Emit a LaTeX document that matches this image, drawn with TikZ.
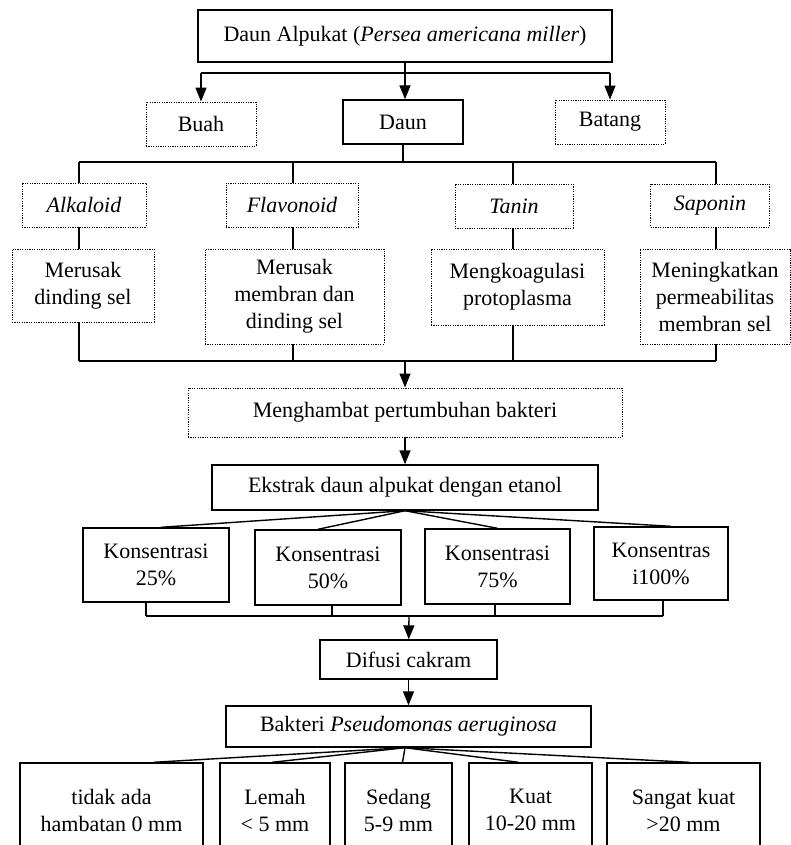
\documentclass[tikz,border=0pt]{standalone}
\usepackage{fontspec}
\setmainfont{Liberation Serif}
\usetikzlibrary{arrows.meta}

\begin{document}
\begin{tikzpicture}[x=0.5pt, y=-0.5pt, line width=0.7pt,
  font=\fontsize{11}{13.5}\selectfont,
  box/.style 2 args={draw, align=center, inner sep=0pt,
    minimum width=#1*0.5pt, minimum height=#2*0.5pt},
  dotbox/.style 2 args={box={#1}{#2}, line width=0.45pt, dash pattern=on 0.6pt off 0.6pt},
  arr/.style={-{Triangle[width=5.5pt,length=7pt]}}]
  \useasboundingbox (0,0) rectangle (791,845);

  % plant parts
  \node[box={414}{52}] (alpukat) at (405,36) {Daun Alpukat (\textit{Persea americana miller})};
  \node[dotbox={110}{44}] (buah) at (201,124) {Buah};
  \node[box={120}{44}] (daun) at (403,122) {Daun};
  \node[dotbox={110}{44}] (batang) at (610,122) {Batang};
  \coordinate (j0) at (405,73);
  \draw (alpukat) -- (j0);
  \draw (buah.north |- j0) -- (batang.north |- j0);
  \draw[arr] (buah.north |- j0) -- (buah.north);
  \draw[arr] (j0) -- (j0 |- daun.north);
  \draw[arr] (batang.north |- j0) -- (batang.north);

  % compounds and effects
  \node[dotbox={124}{44}] (alkaloid) at (84,205) {\textit{Alkaloid}};
  \node[dotbox={132}{44}] (flavonoid) at (292,205) {\textit{Flavonoid}};
  \node[dotbox={118}{44}] (tanin) at (514,206) {\textit{Tanin}};
  \node[dotbox={119}{43}] (saponin) at (710,205.5) {\textit{Saponin}};
  \node[dotbox={142}{73}] (efalk) at (83,285.5) {Merusak\\dinding sel};
  \node[dotbox={179}{95}] (efflav) at (294.5,296.5) {Merusak\\membran dan\\dinding sel};
  \node[dotbox={173}{76}] (eftan) at (517.5,287) {Mengkoagulasi\\protoplasma};
  \node[dotbox={150}{95}] (efsap) at (715,296.5) {Meningkatkan\\permeabilitas\\membran sel};

  \coordinate (b1) at (79,162);
  \coordinate (b2) at (293,162);
  \coordinate (b3) at (513,162);
  \coordinate (b4) at (716,162);
  \coordinate (c1) at (79,361);
  \coordinate (c2) at (293,361);
  \coordinate (c3) at (513,361);
  \coordinate (c4) at (716,361);
  \draw (daun) -- (daun |- b1);
  \draw (b1) -- (b4);
  \draw (b1) -- (b1 |- alkaloid.north);
  \draw (b2) -- (b2 |- flavonoid.north);
  \draw (b3) -- (b3 |- tanin.north);
  \draw (b4) -- (b4 |- saponin.north);
  \draw (b1 |- alkaloid.south) -- (b1 |- efalk.north);
  \draw (b2 |- flavonoid.south) -- (b2 |- efflav.north);
  \draw (b3 |- tanin.south) -- (b3 |- eftan.north);
  \draw (b4 |- saponin.south) -- (b4 |- efsap.north);
  \draw (c1 |- efalk.south) -- (c1);
  \draw (c2 |- efflav.south) -- (c2);
  \draw (c3 |- eftan.south) -- (c3);
  \draw (c4 |- efsap.south) -- (c4);
  \draw (c1) -- (c4);

  % extract and concentrations
  \node[dotbox={434}{49}] (hambat) at (405,412.5) {Menghambat pertumbuhan bakteri};
  \node[box={386}{45}] (ekstrak) at (405,487.5) {Ekstrak daun alpukat dengan etanol};
  \coordinate (m0) at (405,361);
  \draw[arr] (m0) -- (hambat);
  \draw[arr] (hambat) -- (ekstrak);

  \node[box={146}{74}] (k25) at (156,565) {Konsentrasi\\25\%};
  \node[box={146}{75}] (k50) at (328,567.5) {Konsentrasi\\50\%};
  \node[box={145}{75}] (k75) at (497.5,566.5) {Konsentrasi\\75\%};
  \node[box={134}{73}] (k100) at (661,563.5) {Konsentras\\i100\%};
  \draw (ekstrak.south) -- ([xshift=2.5pt]k25.north);
  \draw (ekstrak.south) -- ([xshift=-5pt]k50.north);
  \draw (ekstrak.south) -- (k75.north);
  \draw (ekstrak.south) -- ([xshift=5pt]k100.north);

  \coordinate (d1) at (146,616);
  \coordinate (d2) at (332,616);
  \coordinate (d3) at (495,616);
  \coordinate (d4) at (663,616);
  \coordinate (d0) at (409,616);
  \draw (d1 |- k25.south) -- (d1);
  \draw (d2 |- k50.south) -- (d2);
  \draw (d3 |- k75.south) -- (d3);
  \draw (d4 |- k100.south) -- (d4);
  \draw (d1) -- (d4);

  % test and results
  \node[box={177}{39}] (difusi) at (408.5,659.5) {Difusi cakram};
  \node[box={365}{41}] (bakteri) at (408.5,726.5) {Bakteri \textit{Pseudomonas aeruginosa}};
  \draw[arr] (d0) -- (difusi);
  \draw[arr] (difusi) -- (bakteri);

  \node[box={183}{94}] (nol) at (111.5,810) {tidak ada\\hambatan 0 mm};
  \node[box={110}{94}] (lemah) at (275,810) {Lemah\\< 5 mm};
  \node[box={107}{94}] (sedang) at (398.5,810) {Sedang\\5-9 mm};
  \node[box={123}{94}] (kuat) at (530.5,810) {Kuat\\10-20 mm};
  \node[box={153}{94}] (sangat) at (683.5,810) {Sangat kuat\\>20 mm};
  \draw ([xshift=-1.75pt]bakteri.south) -- ([xshift=21pt]nol.north);
  \draw ([xshift=-1.75pt]bakteri.south) -- ([xshift=-1.5pt]lemah.north);
  \draw ([xshift=-1.75pt]bakteri.south) -- ([xshift=2pt]sedang.north);
  \draw ([xshift=-1.75pt]bakteri.south) -- ([xshift=-6pt]kuat.north);
  \draw ([xshift=-1.75pt]bakteri.south) -- ([xshift=3pt]sangat.north);
\end{tikzpicture}
\end{document}
